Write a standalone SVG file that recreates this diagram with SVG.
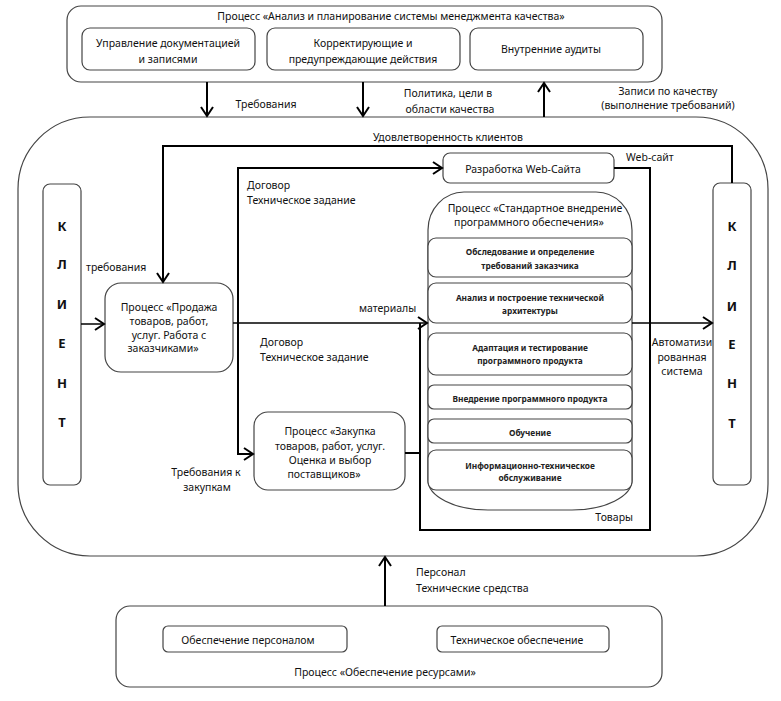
<svg xmlns="http://www.w3.org/2000/svg" width="781" height="701" viewBox="0 0 781 701">
<defs>
<marker id="arr" markerUnits="userSpaceOnUse" markerWidth="14" markerHeight="14" viewBox="0 0 14 14" refX="12" refY="7" orient="auto">
<path d="M3,1 L12,7 L3,13" fill="none" stroke="#000" stroke-width="2"/>
</marker>
</defs>
<style>
.box{fill:#fff;stroke:#444;stroke-width:1.2}
.frame{fill:none;stroke:#444;stroke-width:1.2}
.t{font-family:"Noto Sans","DejaVu Sans",sans-serif;font-size:10.5px;fill:#111}
.c{text-anchor:middle}
.s{font-family:"Noto Sans","DejaVu Sans",sans-serif;font-size:8.3px;font-weight:bold;fill:#222;text-anchor:middle}
.k{font-family:"Noto Sans","DejaVu Sans",sans-serif;font-size:13px;font-weight:bold;fill:#111;text-anchor:middle}
.ln{fill:none;stroke:#000;stroke-width:2}
.thin{fill:none;stroke:#000;stroke-width:1.5}
</style>
<rect width="781" height="701" fill="#fff"/>

<g id="quality">
<rect class="box" x="67" y="6" width="595" height="76" rx="14"/>
<text class="t c" x="391" y="20">Процесс «Анализ и планирование системы менеджмента качества»</text>
</g>
<g id="docs">
<rect class="box" x="82" y="28" width="173" height="42" rx="8"/>
<text class="t c" x="168" y="47">Управление документацией</text>
<text class="t c" x="168" y="63">и записями</text>
</g>
<g id="corrective">
<rect class="box" x="267" y="28" width="193" height="42" rx="8"/>
<text class="t c" x="363" y="47">Корректирующие и</text>
<text class="t c" x="363" y="63">предупреждающие действия</text>
</g>
<g id="audits">
<rect class="box" x="470" y="28" width="173" height="42" rx="8"/>
<text class="t c" x="551" y="53">Внутренние аудиты</text>
</g>

<g id="org">
<rect class="frame" x="18" y="117" width="750" height="439" rx="72"/>
</g>

<g id="client-left">
<rect class="box" x="43" y="184" width="38" height="301" rx="7"/>
<text class="k" x="62" y="231">К</text>
<text class="k" x="62" y="269">Л</text>
<text class="k" x="62" y="309">И</text>
<text class="k" x="62" y="348">Е</text>
<text class="k" x="62" y="388">Н</text>
<text class="k" x="62" y="427">Т</text>
</g>
<g id="client-right">
<rect class="box" x="713" y="183" width="38" height="302" rx="7"/>
<text class="k" x="732" y="231">К</text>
<text class="k" x="732" y="270">Л</text>
<text class="k" x="732" y="311">И</text>
<text class="k" x="732" y="349">Е</text>
<text class="k" x="732" y="388">Н</text>
<text class="k" x="732" y="428">Т</text>
</g>

<g id="sales">
<rect class="box" x="105" y="283" width="128" height="89" rx="16"/>
<text class="t c" x="169" y="311">Процесс «Продажа</text>
<text class="t c" x="169" y="325">товаров, работ,</text>
<text class="t c" x="169" y="339">услуг. Работа с</text>
<text class="t c" x="163" y="352">заказчиками»</text>
</g>

<g id="purchase">
<rect class="box" x="254" y="412" width="151" height="78" rx="14"/>
<text class="t c" x="330" y="435">Процесс «Закупка</text>
<text class="t c" x="330" y="450">товаров, работ, услуг.</text>
<text class="t c" x="330" y="464">Оценка и выбор</text>
<text class="t c" x="324" y="478">поставщиков»</text>
</g>

<g id="web">
<rect class="box" x="443" y="153" width="171" height="30" rx="7"/>
<text class="t c" x="523" y="173">Разработка Web-Сайта</text>
</g>

<g id="standard">
<path class="box" d="M464,192 H596 A36,38 0 0 1 632,230 V480 A60,30 0 0 1 572,510 H488 A60,30 0 0 1 428,480 V230 A36,38 0 0 1 464,192 Z"/>
<text class="t c" x="535" y="212">Процесс «Стандартное внедрение</text>
<text class="t c" x="529" y="226">программного обеспечения»</text>
</g>
<g id="survey">
<rect class="box" x="428" y="238" width="204" height="39" rx="8"/>
<text class="s" x="530" y="255">Обследование и определение</text>
<text class="s" x="530" y="269">требований заказчика</text>
</g>
<g id="analysis">
<rect class="box" x="428" y="283" width="204" height="40" rx="8"/>
<text class="s" x="530" y="301">Анализ и построение технической</text>
<text class="s" x="530" y="314">архитектуры</text>
</g>
<g id="adaptation">
<rect class="box" x="428" y="333" width="204" height="42" rx="8"/>
<text class="s" x="530" y="351">Адаптация и тестирование</text>
<text class="s" x="530" y="364">программного продукта</text>
</g>
<g id="deploy">
<rect class="box" x="428" y="385" width="204" height="24" rx="6"/>
<text class="s" x="530" y="402">Внедрение программного продукта</text>
</g>
<g id="training">
<rect class="box" x="428" y="419" width="204" height="24" rx="6"/>
<text class="s" x="530" y="436">Обучение</text>
</g>
<g id="support">
<rect class="box" x="428" y="450" width="204" height="40" rx="8"/>
<text class="s" x="530" y="469">Информационно-техническое</text>
<text class="s" x="530" y="481">обслуживание</text>
</g>

<g id="resources">
<rect class="box" x="116" y="606" width="546" height="81" rx="14"/>
<text class="t c" x="385" y="676">Процесс «Обеспечение ресурсами»</text>
</g>
<g id="staff">
<rect class="box" x="163" y="626" width="184" height="26" rx="5"/>
<text class="t c" x="248" y="644">Обеспечение персоналом</text>
</g>
<g id="tech">
<rect class="box" x="437" y="626" width="172" height="26" rx="5"/>
<text class="t c" x="517" y="644">Техническое обеспечение</text>
</g>

<g id="connectors">
<path class="ln" d="M207,82 V116" marker-end="url(#arr)"/>
<path class="ln" d="M363,82 V116" marker-end="url(#arr)"/>
<path class="ln" d="M544,117 V83" marker-end="url(#arr)"/>
<path class="ln" d="M732,183 V146 H163 V282" marker-end="url(#arr)"/>
<path class="thin" d="M81,324 H104" marker-end="url(#arr)"/>
<path class="thin" d="M233,323 H427" marker-end="url(#arr)"/>
<path class="ln" d="M238,323 V168 H442" marker-end="url(#arr)"/>
<path class="ln" d="M238,323 V454 H253" marker-end="url(#arr)"/>
<path class="ln" d="M420,323 V530 H650 V168 H614"/>
<path class="ln" d="M405,453 H420"/>
<path class="thin" d="M632,323 H712" marker-end="url(#arr)"/>
<path class="ln" d="M385,606 V557" marker-end="url(#arr)"/>
</g>

<g id="labels">
<text class="t c" x="266" y="108">Требования</text>
<text class="t c" x="448" y="97">Политика, цели в</text>
<text class="t c" x="450" y="113">области качества</text>
<text class="t c" x="668" y="95">Записи по качеству</text>
<text class="t c" x="668" y="109">(выполнение требований)</text>
<text class="t c" x="448" y="141">Удовлетворенность клиентов</text>
<text class="t" x="626" y="161">Web-сайт</text>
<text class="t" x="86" y="271">требования</text>
<text class="t" x="247" y="189">Договор</text>
<text class="t" x="247" y="204">Техническое задание</text>
<text class="t" x="359" y="312">материалы</text>
<text class="t" x="260" y="346">Договор</text>
<text class="t" x="260" y="361">Техническое задание</text>
<text class="t c" x="206" y="476">Требования к</text>
<text class="t c" x="207" y="491">закупкам</text>
<text class="t c" x="682" y="346">Автоматизи</text>
<text class="t c" x="682" y="361">рованная</text>
<text class="t c" x="682" y="375">система</text>
<text class="t" x="633" y="521" text-anchor="end">Товары</text>
<text class="t" x="416" y="576">Персонал</text>
<text class="t" x="416" y="592">Технические средства</text>
</g>
</svg>
